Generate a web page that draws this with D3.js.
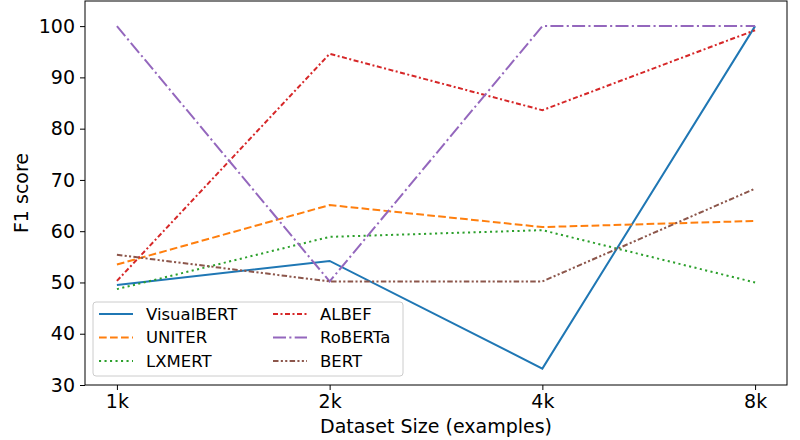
<!DOCTYPE html>
<html>
<head>
<meta charset="utf-8">
<script src="https://cdn.jsdelivr.net/npm/d3@7"></script>
<style>
  body { margin: 0; background: #fff; }
  svg { font-family: "DejaVu Sans", sans-serif; }
</style>
</head>
<body>
<script>
const sizes = ['1k', '2k', '4k', '8k'];
const models = ['VisualBERT', 'UNITER', 'LXMERT', 'ALBEF', 'RoBERTa', 'BERT'];
const visualbert = [49.5, 54.2, 33.2, 100];
const uniter = [53.5, 65.1, 60.8, 62.0];
const lxmert = [48.7, 58.9, 60.2, 50.0];
const albef = [50.3, 94.6, 83.6, 99.2];
const roberta = [100, 50.2, 100, 100];
const bert = [55.4, 50.2, 50.2, 68.3];
const yTicks = [30, 40, 50, 60, 70, 80, 90, 100];

const seriesValues = [visualbert, uniter, lxmert, albef, roberta, bert];
const colors = ['#1f77b4', '#ff7f0e', '#2ca02c', '#d62728', '#9467bd', '#8c564b'];
const dashes = ['none', '7.7,3.3', '2.1,3.4', '5,2.5,2,2.5', '13,3.3,2.1,3.3', '5.5,2.3,2.1,2.3,2.1,2.3'];

const width = 800, height = 440;
const margin = { top: 1, right: 13, bottom: 55, left: 85 };

const svg = d3.select('body').append('svg')
  .attr('width', width)
  .attr('height', height);

const x = d3.scaleLinear()
  .domain([-0.15, 3.15])
  .range([margin.left, width - margin.right]);

const y = d3.scaleLinear()
  .domain([30, 104.9])
  .range([height - margin.bottom, margin.top]);

// axes
const xAxis = svg.append('g')
  .attr('transform', `translate(0,${height - margin.bottom})`)
  .call(d3.axisBottom(x).tickValues([0, 1, 2, 3]).tickFormat(i => sizes[i]).tickSize(5).tickPadding(5));
const yAxis = svg.append('g')
  .attr('transform', `translate(${margin.left},0)`)
  .call(d3.axisLeft(y).tickValues(yTicks).tickSize(5).tickPadding(5));

[xAxis, yAxis].forEach(g => {
  g.selectAll('text').attr('font-size', '19px').attr('fill', '#000')
    .style('font-family', '"DejaVu Sans", sans-serif');
  g.select('.domain').remove();
  g.selectAll('line').attr('stroke', '#000');
});

svg.append('rect')
  .attr('x', margin.left).attr('y', margin.top)
  .attr('width', width - margin.left - margin.right)
  .attr('height', height - margin.top - margin.bottom)
  .attr('fill', 'none').attr('stroke', '#000').attr('stroke-width', 1);

// lines
const line = d3.line().x((d, i) => x(i)).y(d => y(d));
seriesValues.forEach((vals, k) => {
  svg.append('path')
    .datum(vals)
    .attr('d', line)
    .attr('fill', 'none')
    .attr('stroke', colors[k])
    .attr('stroke-width', 2)
    .attr('stroke-dasharray', dashes[k]);
});

// axis labels
svg.append('text')
  .attr('x', (margin.left + width - margin.right) / 2)
  .attr('y', 433)
  .attr('text-anchor', 'middle')
  .attr('font-size', '19px')
  .text('Dataset Size (examples)');

svg.append('text')
  .attr('transform', `translate(28,${(margin.top + height - margin.bottom) / 2}) rotate(-90)`)
  .attr('text-anchor', 'middle')
  .attr('font-size', '19px')
  .text('F1 score');

// legend
const legend = svg.append('g');
legend.append('rect')
  .attr('x', 93).attr('y', 302)
  .attr('width', 310).attr('height', 74)
  .attr('rx', 3)
  .attr('fill', '#fff').attr('fill-opacity', 0.8)
  .attr('stroke', '#ccc');

models.forEach((m, k) => {
  const col = Math.floor(k / 3), row = k % 3;
  const lx = 99 + col * 174, ly = 314 + row * 23.5;
  legend.append('line')
    .attr('x1', lx).attr('x2', lx + 34)
    .attr('y1', ly).attr('y2', ly)
    .attr('stroke', colors[k])
    .attr('stroke-width', 2)
    .attr('stroke-dasharray', dashes[k]);
  legend.append('text')
    .attr('x', lx + 47).attr('y', ly)
    .attr('dy', '0.35em')
    .attr('font-size', '16.5px')
    .text(m);
});
</script>
</body>
</html>
